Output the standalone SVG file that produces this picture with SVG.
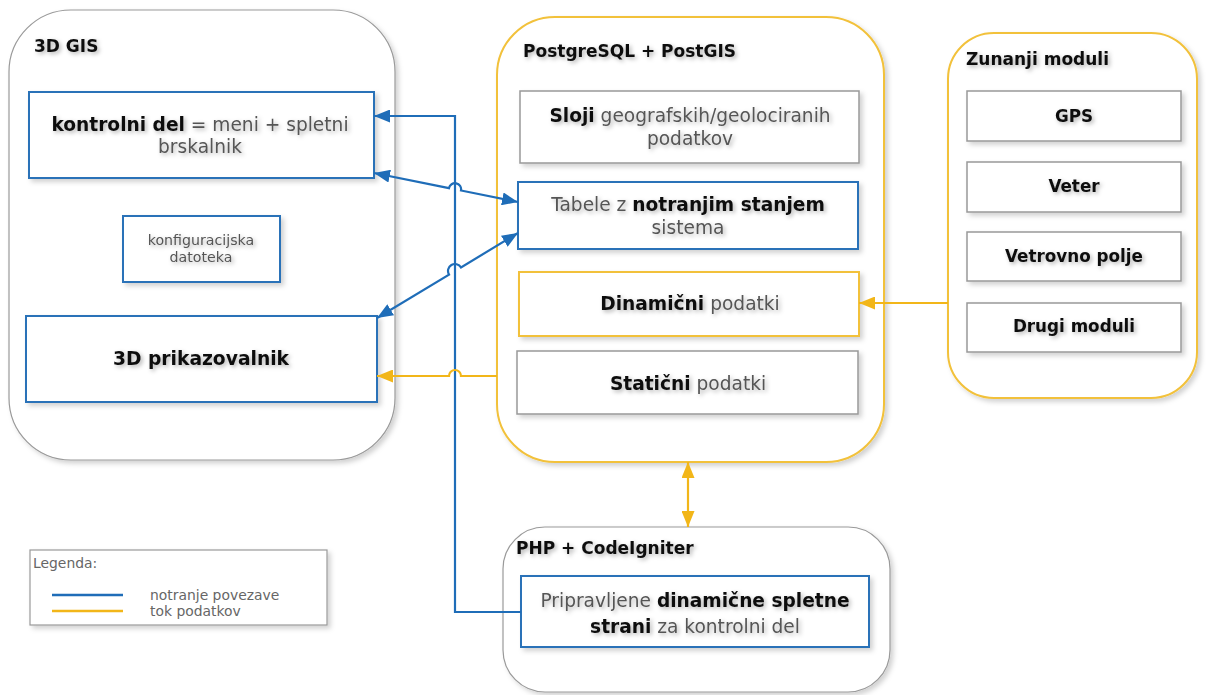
<svg xmlns="http://www.w3.org/2000/svg" width="1209" height="695" viewBox="0 0 1209 695">
<defs>
<filter id="sh" x="-10%" y="-10%" width="130%" height="130%"><feDropShadow dx="3" dy="3" stdDeviation="2.5" flood-color="#000" flood-opacity="0.18"/></filter>
<filter id="tsh" x="-10%" y="-30%" width="130%" height="180%"><feDropShadow dx="2" dy="2" stdDeviation="2" flood-color="#000" flood-opacity="0.3"/></filter>
<marker id="ab" viewBox="0 0 16 13" refX="16" refY="6.5" markerWidth="16" markerHeight="13" markerUnits="userSpaceOnUse" orient="auto-start-reverse"><path d="M0,0 L16,6.5 L0,13 Z" fill="#1f6db8"/></marker>
<marker id="ao" viewBox="0 0 16 13" refX="16" refY="6.5" markerWidth="16" markerHeight="13" markerUnits="userSpaceOnUse" orient="auto-start-reverse"><path d="M0,0 L16,6.5 L0,13 Z" fill="#f2b619"/></marker>
</defs>
<style>
text{font-family:"DejaVu Sans","Verdana",sans-serif;}
.cont{fill:#fff;stroke:#9a9a9a;stroke-width:1.2;filter:url(#sh);}
.conto{fill:#fff;stroke:#f2c13a;stroke-width:2;filter:url(#sh);}
.bb{fill:#fff;stroke:#2a72b8;stroke-width:2;filter:url(#sh);}
.bo{fill:#fff;stroke:#f2c13a;stroke-width:2;filter:url(#sh);}
.bg{fill:#fff;stroke:#999;stroke-width:1.5;filter:url(#sh);}
.title{font-size:17px;font-weight:bold;fill:#111;filter:url(#tsh);}
.big{font-size:18.6px;fill:#555;text-anchor:middle;filter:url(#tsh);}
.big tspan.b{font-weight:bold;fill:#111;}
.bold{font-size:18.7px;font-weight:bold;fill:#111;text-anchor:middle;filter:url(#tsh);}
.mod{font-size:16.8px;font-weight:bold;fill:#111;text-anchor:middle;filter:url(#tsh);}
.small{font-size:14.2px;fill:#555;text-anchor:middle;filter:url(#tsh);}
.leg{font-size:13.9px;fill:#666;}
.lb{fill:none;stroke:#1f6db8;stroke-width:2.2;}
.lo{fill:none;stroke:#f2b619;stroke-width:2.2;}
</style>
<rect width="1209" height="695" fill="#fff"/>

<g id="gis3d">
<rect class="cont" x="9" y="10" width="386" height="450" rx="62" ry="62"/>
<text class="title" x="34" y="52">3D GIS</text>
</g>
<g id="kontrolni">
<rect class="bb" x="29" y="92" width="345" height="86"/>
<text class="big" x="200" y="131"><tspan class="b">kontrolni del</tspan> = meni + spletni</text>
<text class="big" x="200" y="153">brskalnik</text>
</g>
<g id="konfig">
<rect class="bb" x="123" y="216" width="157" height="66"/>
<text class="small" x="201" y="245">konfiguracijska</text>
<text class="small" x="201" y="262">datoteka</text>
</g>
<g id="prikaz">
<rect class="bb" x="26" y="316" width="351" height="86"/>
<text class="bold" x="201" y="365">3D prikazovalnik</text>
</g>

<g id="postgres">
<rect class="conto" x="497" y="17" width="387" height="445" rx="58" ry="58"/>
<text class="title" x="523" y="57">PostgreSQL + PostGIS</text>
</g>
<g id="sloji">
<rect class="bg" x="520" y="91" width="339" height="72"/>
<text class="big" x="690" y="122"><tspan class="b">Sloji</tspan> geografskih/geolociranih</text>
<text class="big" x="690" y="145">podatkov</text>
</g>
<g id="tabele">
<rect class="bb" x="518" y="182" width="340" height="67"/>
<text class="big" x="688" y="211">Tabele z <tspan class="b">notranjim stanjem</tspan></text>
<text class="big" x="688" y="234">sistema</text>
</g>
<g id="dinamicni">
<rect class="bo" x="519" y="272" width="340" height="64"/>
<text class="big" x="690" y="310"><tspan class="b">Dinamični</tspan> podatki</text>
</g>
<g id="staticni">
<rect class="bg" x="517" y="351" width="341" height="63"/>
<text class="big" x="688" y="390"><tspan class="b">Statični</tspan> podatki</text>
</g>

<g id="zunanji">
<rect class="conto" x="948" y="33" width="249" height="365" rx="46" ry="46"/>
<text class="title" x="966" y="65">Zunanji moduli</text>
</g>
<g id="gps">
<rect class="bg" x="967" y="91" width="214" height="50"/>
<text class="mod" x="1074" y="122">GPS</text>
</g>
<g id="veter">
<rect class="bg" x="967" y="162" width="214" height="50"/>
<text class="mod" x="1074" y="192">Veter</text>
</g>
<g id="vetrovno">
<rect class="bg" x="967" y="232" width="214" height="49"/>
<text class="mod" x="1074" y="262">Vetrovno polje</text>
</g>
<g id="drugi">
<rect class="bg" x="967" y="303" width="214" height="49"/>
<text class="mod" x="1074" y="332">Drugi moduli</text>
</g>

<g id="php">
<rect class="cont" x="503" y="527" width="387" height="165" rx="42" ry="42"/>
<text class="title" x="516" y="554">PHP + CodeIgniter</text>
</g>
<g id="pripravljene">
<rect class="bb" x="521" y="576" width="348" height="71"/>
<text class="big" x="695" y="607">Pripravljene <tspan class="b">dinamične spletne</tspan></text>
<text class="big" x="695" y="633"><tspan class="b">strani</tspan> za kontrolni del</text>
</g>

<g id="legenda">
<rect x="30" y="550" width="297" height="75" fill="#fff" stroke="#999" stroke-width="1.2" filter="url(#sh)"/>
<text class="leg" x="33" y="568">Legenda:</text>
<line x1="52" y1="595" x2="123" y2="595" stroke="#1f6db8" stroke-width="2.5"/>
<line x1="52" y1="611" x2="123" y2="611" stroke="#f2b619" stroke-width="2.5"/>
<text class="leg" x="150" y="600">notranje povezave</text>
<text class="leg" x="150" y="616">tok podatkov</text>
</g>

<g id="connectors">
<path class="lb" d="M521,612 L455,612 L455,116 L374,116" marker-end="url(#ab)"/>
<path class="lb" d="M374,173 L449,188.1 A6 6 0 0 1 461 190.5 L518,202" marker-start="url(#ab)" marker-end="url(#ab)"/>
<path class="lb" d="M377,318 L449,274.6 A6 6 0 0 1 461 267.4 L518,233" marker-start="url(#ab)" marker-end="url(#ab)"/>
<path class="lo" d="M497,376 L461,376 A6 6 0 0 0 449 376 L377,376" marker-end="url(#ao)"/>
<path class="lo" d="M948,303 L859,303" marker-end="url(#ao)"/>
<path class="lo" d="M688,462 L688,527" marker-start="url(#ao)" marker-end="url(#ao)"/>
</g>
</svg>
